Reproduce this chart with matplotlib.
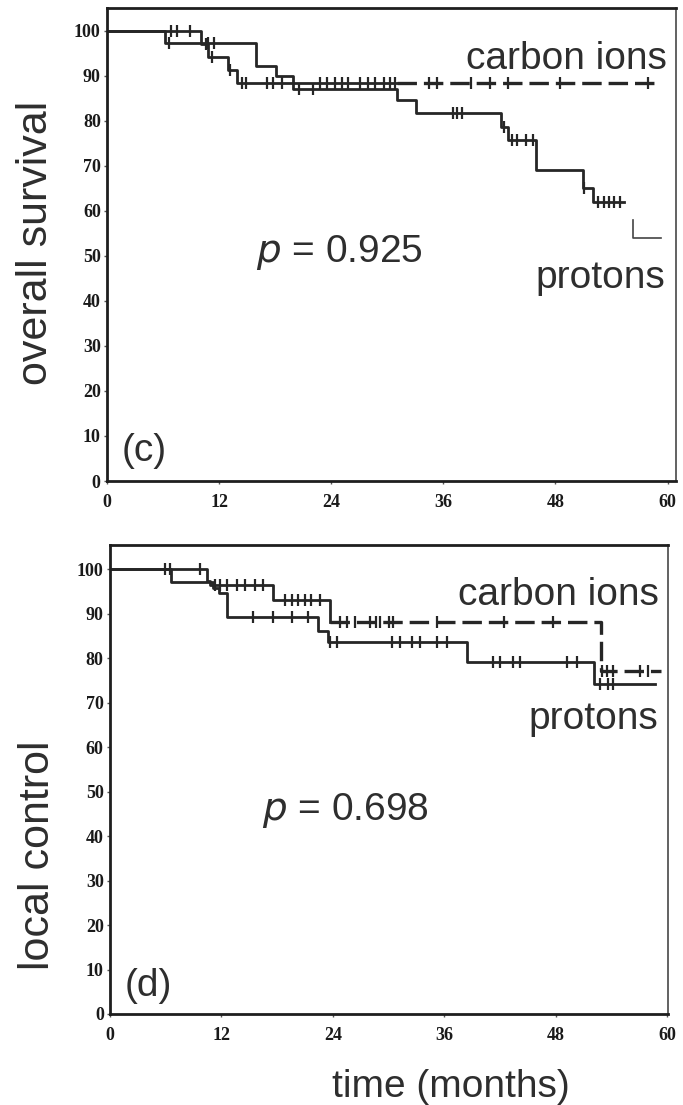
import numpy as np
import matplotlib
matplotlib.use("Agg")
import matplotlib.pyplot as plt

plt.rcParams['lines.scale_dashes'] = False

# ---------------- data ----------------
x_ticks = [0, 12, 24, 36, 48, 60]
y_ticks = [0, 10, 20, 30, 40, 50, 60, 70, 80, 90, 100]

# (c) overall survival
protons_os_t = [0, 6.2, 16.0, 18.1, 19.9, 31.0, 33.1, 42.2, 42.9, 45.9, 50.9, 52.0, 55.3]
protons_os_s = [100, 97.4, 92.3, 89.9, 87.2, 84.6, 81.8, 78.7, 75.8, 69.1, 65.1, 62.0, 62.0]
protons_os_tail_t = [56.3, 56.3, 59.3]
protons_os_tail_s = [58.0, 54.0, 54.0]
protons_os_cens = [6.6, 10.8, 11.4, 20.5, 22.0, 37.0, 37.5, 38.0, 42.5, 43.4, 43.9,
                   44.8, 45.6, 51.0, 52.6, 53.2, 53.7, 54.3, 54.9]

carbon_os_t = [0, 10.1, 10.8, 12.9, 13.9, 59.0]
carbon_os_s = [100, 97.2, 94.3, 91.3, 88.5, 88.5]
carbon_os_cens = [6.9, 7.5, 8.9, 10.6, 11.2, 13.2, 14.4, 14.9, 17.1, 17.8, 18.7, 22.8,
                  23.6, 24.4, 25.1, 25.8, 27.1, 27.9, 28.7, 29.6, 30.3, 30.8, 34.5,
                  35.3, 39.0, 41.0, 42.9, 48.5, 57.9]
carbon_os_dash_from = 31.0

# (d) local control
protons_lc_t = [0, 6.6, 11.1, 11.7, 12.6, 22.4, 23.5, 38.4, 52.1, 58.7]
protons_lc_s = [100, 97.0, 95.8, 94.7, 89.3, 86.0, 83.6, 79.1, 74.1, 74.1]
protons_lc_cens = [15.4, 17.6, 19.6, 21.3, 23.7, 24.5, 30.4, 31.2, 32.5, 33.4, 35.2,
                   36.3, 41.3, 42.0, 43.4, 44.2, 49.2, 50.3, 52.8, 53.6, 54.2]

carbon_lc_t = [0, 10.4, 10.8, 17.6, 23.7, 52.9, 59.3]
carbon_lc_s = [100, 97.3, 96.5, 93.0, 88.1, 77.1, 77.1]
carbon_lc_cens = [5.9, 6.5, 9.7, 11.3, 11.9, 12.6, 13.7, 14.5, 15.6, 16.5, 18.9, 19.6,
                  20.3, 21.0, 21.6, 22.6, 24.8, 25.5, 26.4, 28.0, 28.6, 29.1, 30.0,
                  30.5, 35.2, 42.4, 47.7, 53.0, 53.5, 54.2, 57.1, 57.9]
carbon_lc_dash_from = 23.7

p_os = "0.925"
p_lc = "0.698"

# ---------------- style ----------------
LINE = '#262626'
TXT = '#2e2e2e'
SANS = ['Liberation Sans', 'DejaVu Sans']
SERIF = ['Liberation Serif', 'DejaVu Serif']
BIG = 28
YLAB = 31


def step_value(t, s, x):
    t = np.asarray(t); s = np.asarray(s)
    idx = np.searchsorted(t, x, side='right') - 1
    return s[np.clip(idx, 0, len(s) - 1)]


def draw_curve(ax, t, s, cens, dashed_from=None, lw=2.0):
    t = np.asarray(t, float); s = np.asarray(s, float)
    if dashed_from is None:
        ax.step(t, s, where='post', color=LINE, lw=lw)
    else:
        m1 = t <= dashed_from
        t1 = np.append(t[m1], dashed_from)
        s1 = np.append(s[m1], step_value(t, s, dashed_from))
        ax.step(t1, s1, where='post', color=LINE, lw=lw)
        m2 = t > dashed_from
        t2 = np.insert(t[m2], 0, dashed_from)
        s2 = np.insert(s[m2], 0, step_value(t, s, dashed_from))
        ln, = ax.step(t2, s2, where='post', color=LINE, lw=lw + 0.4)
        ln.set_dashes((14, 5))
    cy = step_value(t, s, np.asarray(cens))
    ax.plot(cens, cy, linestyle='none', marker='|', ms=8, mew=1.6, color=LINE)


def style_axes(ax, xmax, ymax):
    ax.set_xlim(0, xmax)
    ax.set_ylim(0, ymax)
    ax.set_xticks(x_ticks)
    ax.set_yticks(y_ticks)
    ax.tick_params(length=2.5, width=1, color='#555555', pad=2)
    ax.tick_params(axis='x', pad=7)
    for lab in ax.get_xticklabels() + ax.get_yticklabels():
        lab.set_family(SERIF)
        lab.set_fontweight('bold')
        lab.set_fontsize(13)
        lab.set_color('#1a1a1a')
    for sp in ax.spines.values():
        sp.set_linewidth(2.0)
        sp.set_color('#1e1e1e')
    ax.spines['right'].set_linewidth(1.3)
    ax.spines['right'].set_color('#555555')


fig = plt.figure(figsize=(6.83, 11.05), dpi=100)

# ---------- panel (c) ----------
ax1 = fig.add_axes([107 / 683, 1 - 481 / 1105, 569 / 683, 473 / 1105])
draw_curve(ax1, protons_os_t, protons_os_s, protons_os_cens)
ax1.plot(protons_os_tail_t, protons_os_tail_s, color='#444444', lw=1.2)
draw_curve(ax1, carbon_os_t, carbon_os_s, carbon_os_cens, dashed_from=carbon_os_dash_from)
style_axes(ax1, 60.9, 105.1)
ax1.text(59.9, 91.5, "carbon ions", ha='right', va='baseline', fontsize=BIG, family=SANS, color=TXT)
ax1.text(59.8, 42.9, "protons", ha='right', va='baseline', fontsize=BIG, family=SANS, color=TXT)
ax1.text(16.0, 48.7, r"$\it{p}$ = " + p_os, ha='left', va='baseline', fontsize=BIG, family=SANS, color=TXT)
ax1.text(1.6, 4.4, "(c)", ha='left', va='baseline', fontsize=BIG, family=SANS, color=TXT)

# ---------- panel (d) ----------
ax2 = fig.add_axes([110 / 683, 1 - 1014 / 1105, 558 / 683, 469 / 1105])
draw_curve(ax2, protons_lc_t, protons_lc_s, protons_lc_cens)
draw_curve(ax2, carbon_lc_t, carbon_lc_s, carbon_lc_cens, dashed_from=carbon_lc_dash_from)
style_axes(ax2, 60.1, 105.4)
ax2.text(59.1, 92.0, "carbon ions", ha='right', va='baseline', fontsize=BIG, family=SANS, color=TXT)
ax2.text(59.1, 64.0, "protons", ha='right', va='baseline', fontsize=BIG, family=SANS, color=TXT)
ax2.text(16.4, 43.5, r"$\it{p}$ = " + p_lc, ha='left', va='baseline', fontsize=BIG, family=SANS, color=TXT)
ax2.text(1.6, 4.1, "(d)", ha='left', va='baseline', fontsize=BIG, family=SANS, color=TXT)

# axis labels
fig.text(36 / 683, 1 - 243 / 1105, "overall survival", rotation=90, ha='center', va='center',
         fontsize=YLAB, family=SANS, color=TXT)
fig.text(38 / 683, 1 - 855 / 1105, "local control", rotation=90, ha='center', va='center',
         fontsize=YLAB, family=SANS, color=TXT)
fig.text(451 / 683, 1 - 1097 / 1105, "time (months)", ha='center', va='baseline',
         fontsize=BIG, family=SANS, color=TXT)

fig.savefig("out.png", dpi=100)
